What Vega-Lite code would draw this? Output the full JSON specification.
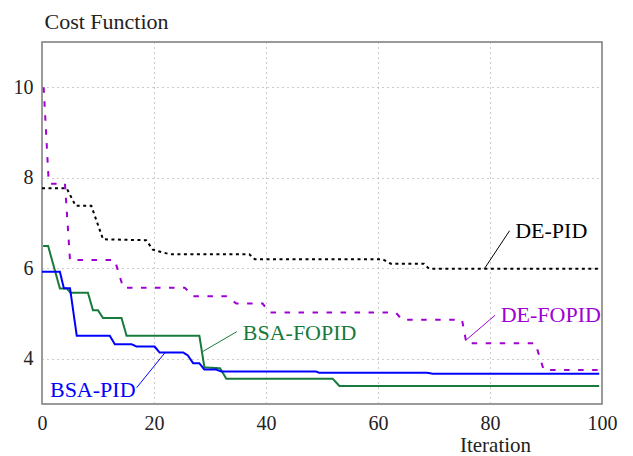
{
  "$schema": "https://vega.github.io/schema/vega-lite/v6.json",
  "width": 560,
  "height": 362,
  "autosize": {"type": "none"},
  "padding": {"left": 42, "top": 42, "right": 31, "bottom": 52},
  "background": "white",
  "config": {
    "font": "Liberation Serif",
    "view": {"stroke": "#7a7a7a", "strokeWidth": 1.5},
    "axis": {"labelFont": "Liberation Serif", "titleFont": "Liberation Serif", "labelFontSize": 20, "titleFontSize": 22, "labelColor": "#222", "titleColor": "#222", "titleFontWeight": "normal", "domain": false, "ticks": false, "grid": true, "gridColor": "#999", "gridDash": [1, 4], "gridWidth": 1, "labelFlush": false, "labelOverlap": false}
  },
  "datasets": {
    "lines": [
      {"s": "DE-PID", "x": 0, "y": 7.77}, {"s": "DE-PID", "x": 4.4, "y": 7.77}, {"s": "DE-PID", "x": 6, "y": 7.38}, {"s": "DE-PID", "x": 8.8, "y": 7.38}, {"s": "DE-PID", "x": 10.9, "y": 6.64}, {"s": "DE-PID", "x": 18.6, "y": 6.62}, {"s": "DE-PID", "x": 19.8, "y": 6.41}, {"s": "DE-PID", "x": 22.8, "y": 6.31}, {"s": "DE-PID", "x": 37, "y": 6.31}, {"s": "DE-PID", "x": 38, "y": 6.2}, {"s": "DE-PID", "x": 60.8, "y": 6.2}, {"s": "DE-PID", "x": 62.3, "y": 6.1}, {"s": "DE-PID", "x": 68.2, "y": 6.1}, {"s": "DE-PID", "x": 69.1, "y": 5.99}, {"s": "DE-PID", "x": 99.5, "y": 5.99},
      {"s": "DE-FOPID", "x": 0.3, "y": 10}, {"s": "DE-FOPID", "x": 1.2, "y": 7.9}, {"s": "DE-FOPID", "x": 1.5, "y": 7.87}, {"s": "DE-FOPID", "x": 4.1, "y": 7.87}, {"s": "DE-FOPID", "x": 5, "y": 6.18}, {"s": "DE-FOPID", "x": 13, "y": 6.18}, {"s": "DE-FOPID", "x": 14.5, "y": 5.57}, {"s": "DE-FOPID", "x": 25.5, "y": 5.57}, {"s": "DE-FOPID", "x": 27, "y": 5.38}, {"s": "DE-FOPID", "x": 32.9, "y": 5.38}, {"s": "DE-FOPID", "x": 34.7, "y": 5.22}, {"s": "DE-FOPID", "x": 39.4, "y": 5.22}, {"s": "DE-FOPID", "x": 40.6, "y": 5.02}, {"s": "DE-FOPID", "x": 63.2, "y": 5.02}, {"s": "DE-FOPID", "x": 64.3, "y": 4.86}, {"s": "DE-FOPID", "x": 75, "y": 4.86}, {"s": "DE-FOPID", "x": 75.8, "y": 4.34}, {"s": "DE-FOPID", "x": 88.1, "y": 4.34}, {"s": "DE-FOPID", "x": 89.6, "y": 3.75}, {"s": "DE-FOPID", "x": 99.5, "y": 3.75},
      {"s": "BSA-FOPID", "x": 0.2, "y": 6.49}, {"s": "BSA-FOPID", "x": 1.1, "y": 6.49}, {"s": "BSA-FOPID", "x": 3.2, "y": 5.55}, {"s": "BSA-FOPID", "x": 4.4, "y": 5.55}, {"s": "BSA-FOPID", "x": 5.1, "y": 5.46}, {"s": "BSA-FOPID", "x": 8.2, "y": 5.46}, {"s": "BSA-FOPID", "x": 9.1, "y": 5.07}, {"s": "BSA-FOPID", "x": 10, "y": 5.07}, {"s": "BSA-FOPID", "x": 10.9, "y": 4.9}, {"s": "BSA-FOPID", "x": 14.2, "y": 4.9}, {"s": "BSA-FOPID", "x": 15.1, "y": 4.51}, {"s": "BSA-FOPID", "x": 28.1, "y": 4.51}, {"s": "BSA-FOPID", "x": 29, "y": 3.81}, {"s": "BSA-FOPID", "x": 31.8, "y": 3.79}, {"s": "BSA-FOPID", "x": 32.9, "y": 3.56}, {"s": "BSA-FOPID", "x": 51.9, "y": 3.56}, {"s": "BSA-FOPID", "x": 53.1, "y": 3.4}, {"s": "BSA-FOPID", "x": 99.5, "y": 3.4},
      {"s": "BSA-PID", "x": 0, "y": 5.92}, {"s": "BSA-PID", "x": 3.2, "y": 5.92}, {"s": "BSA-PID", "x": 3.9, "y": 5.56}, {"s": "BSA-PID", "x": 5, "y": 5.56}, {"s": "BSA-PID", "x": 6.2, "y": 4.51}, {"s": "BSA-PID", "x": 12.1, "y": 4.51}, {"s": "BSA-PID", "x": 13, "y": 4.32}, {"s": "BSA-PID", "x": 16, "y": 4.32}, {"s": "BSA-PID", "x": 16.9, "y": 4.27}, {"s": "BSA-PID", "x": 20.1, "y": 4.27}, {"s": "BSA-PID", "x": 21, "y": 4.14}, {"s": "BSA-PID", "x": 25.2, "y": 4.14}, {"s": "BSA-PID", "x": 26, "y": 4.08}, {"s": "BSA-PID", "x": 27, "y": 3.9}, {"s": "BSA-PID", "x": 28.1, "y": 3.9}, {"s": "BSA-PID", "x": 29, "y": 3.76}, {"s": "BSA-PID", "x": 31.1, "y": 3.76}, {"s": "BSA-PID", "x": 32, "y": 3.72}, {"s": "BSA-PID", "x": 48.9, "y": 3.72}, {"s": "BSA-PID", "x": 49.5, "y": 3.69}, {"s": "BSA-PID", "x": 68.8, "y": 3.69}, {"s": "BSA-PID", "x": 69.7, "y": 3.67}, {"s": "BSA-PID", "x": 99.5, "y": 3.67}
    ],
    "labels": [
      {"s": "DE-PID", "tx": 84.5, "ty": 6.83, "x1": 83.5, "y1": 6.83, "x2": 79, "y2": 5.99},
      {"s": "DE-FOPID", "tx": 81.9, "ty": 4.96, "x1": 80.9, "y1": 4.96, "x2": 75.6, "y2": 4.4},
      {"s": "BSA-FOPID", "tx": 35.85, "ty": 4.58, "x1": 34.8, "y1": 4.6, "x2": 28.7, "y2": 4.16},
      {"s": "BSA-PID", "tx": 1.42, "ty": 3.3, "x1": 16.9, "y1": 3.36, "x2": 22, "y2": 4.14}
    ]
  },
  "layer": [
    {
      "data": {"name": "lines"},
      "mark": {"type": "line", "strokeWidth": 2, "clip": true},
      "encoding": {
        "x": {"field": "x", "type": "quantitative", "scale": {"domain": [0, 100], "nice": false}, "axis": {"values": [0, 20, 40, 60, 80, 100], "title": "Iteration", "titleFontSize": 21, "labelPadding": 9, "titleX": 453, "titleY": 47, "titleBaseline": "alphabetic", "titleAlign": "center", "titleAnchor": null}},
        "y": {"field": "y", "type": "quantitative", "scale": {"domain": [3, 11], "nice": false, "zero": false}, "axis": {"values": [4, 6, 8, 10], "title": "Cost Function", "labelPadding": 9, "titleAngle": 0, "titleX": 2, "titleY": -14, "titleAlign": "left", "titleBaseline": "alphabetic", "titleAnchor": null}},
        "color": {"field": "s", "type": "nominal", "scale": {"domain": ["DE-PID", "DE-FOPID", "BSA-FOPID", "BSA-PID"], "range": ["#000000", "#9F00D4", "#187A3C", "#0000FF"]}, "legend": null},
        "strokeDash": {"field": "s", "type": "nominal", "scale": {"domain": ["DE-PID", "DE-FOPID", "BSA-FOPID", "BSA-PID"], "range": [[3, 3.5], [5.5, 8.5], [1, 0], [1, 0]]}, "legend": null},
        "detail": {"field": "s"}
      }
    },
    {
      "data": {"name": "labels"},
      "mark": {"type": "rule", "strokeWidth": 1},
      "encoding": {
        "x": {"field": "x1", "type": "quantitative"},
        "y": {"field": "y1", "type": "quantitative"},
        "x2": {"field": "x2"},
        "y2": {"field": "y2"},
        "color": {"field": "s", "type": "nominal", "legend": null}
      }
    },
    {
      "data": {"name": "labels"},
      "mark": {"type": "text", "align": "left", "baseline": "middle", "fontSize": 22, "font": "Liberation Serif"},
      "encoding": {
        "x": {"field": "tx", "type": "quantitative"},
        "y": {"field": "ty", "type": "quantitative"},
        "text": {"field": "s"},
        "color": {"field": "s", "type": "nominal", "legend": null}
      }
    }
  ]
}
